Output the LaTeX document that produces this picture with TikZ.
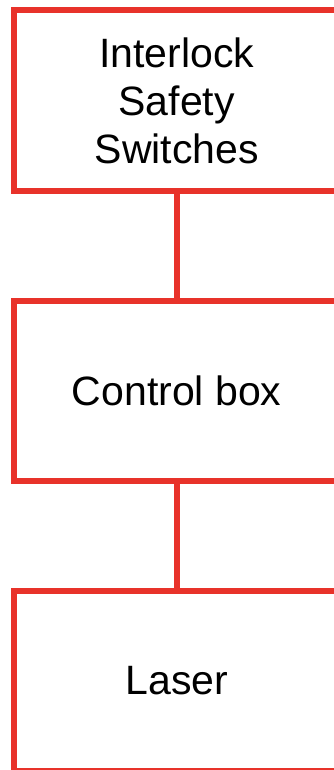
\documentclass[tikz,border=0pt]{standalone}
\usepackage{fontspec}
\setmainfont{Liberation Sans}
\definecolor{boxred}{RGB}{232,50,42}
\begin{document}
\begin{tikzpicture}[x=1pt,y=1pt,
  redbox/.style={draw=boxred, line width=6pt, rectangle, minimum width=325.4pt,
    inner sep=0pt, align=center, font=\fontsize{41}{48}\selectfont, text=black},
  link/.style={draw=boxred, line width=6pt}]
\useasboundingbox (0,0) rectangle (334,770);
\clip (0,0) rectangle (334,770);
\node[redbox, minimum height=181pt] (b1) at (176.7,669.5) {Interlock\\Safety\\Switches};
\node[redbox, minimum height=180pt] (b2) at (176.7,379) {Control box};
\node[redbox, minimum height=180pt] (b3) at (176.7,89) {Laser};
\draw[link] (b1.south) -- (b2.north);
\draw[link] (b2.south) -- (b3.north);
\end{tikzpicture}
\end{document}
